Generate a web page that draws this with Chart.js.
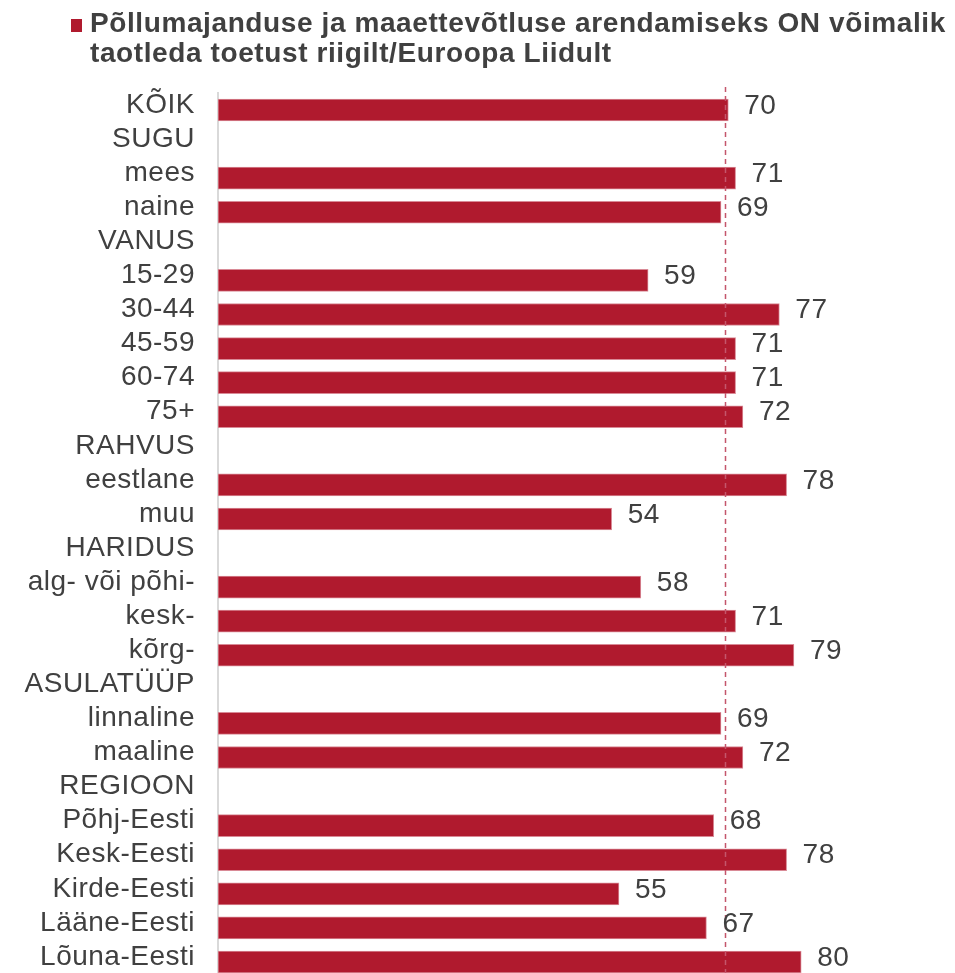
<!DOCTYPE html>
<html>
<head>
<meta charset="utf-8">
<script src="https://cdn.jsdelivr.net/npm/chart.js@4.4.1/dist/chart.umd.min.js"></script>
<style>
  html, body { margin: 0; padding: 0; background: #fff; overflow: hidden; }
  #wrap { position: relative; width: 955px; height: 985px; }
</style>
</head>
<body>
<div id="wrap"><canvas id="myChart"></canvas></div>
<script>
const categories = [
  'KÕIK', 'SUGU', 'mees', 'naine', 'VANUS', '15-29', '30-44', '45-59', '60-74', '75+',
  'RAHVUS', 'eestlane', 'muu', 'HARIDUS', 'alg- või põhi-', 'kesk-', 'kõrg-',
  'ASULATÜÜP', 'linnaline', 'maaline', 'REGIOON', 'Põhj-Eesti', 'Kesk-Eesti',
  'Kirde-Eesti', 'Lääne-Eesti', 'Lõuna-Eesti'
];
const values = [
  70, null, 71, 69, null, 59, 77, 71, 71, 72,
  null, 78, 54, null, 58, 71, 79,
  null, 69, 72, null, 68, 78,
  55, 67, 80
];
const seriesName = ['Põllumajanduse ja maaettevõtluse arendamiseks ON võimalik', 'taotleda toetust riigilt/Euroopa Liidult'];
const refValue = 69.5;
const xMin = 0;
const xMax = 100;

const barColor = '#B01A2E';
const textColor = '#404040';
const fontFamily = '"Liberation Sans", Arial, sans-serif';

// wider letter spacing like the original export
const spacing = {
  id: 'spacing',
  beforeDraw(chart) { chart.ctx.letterSpacing = '0.5px'; }
};

// legend block at the top (square + two lines)
const legendBlock = {
  id: 'legendBlock',
  afterDraw(chart) {
    const { ctx } = chart;
    ctx.save();
    ctx.fillStyle = barColor;
    ctx.fillRect(71, 19, 11, 13);
    ctx.fillStyle = textColor;
    ctx.font = 'bold 28px ' + fontFamily;
    ctx.letterSpacing = '0.6px';
    ctx.textBaseline = 'alphabetic';
    ctx.textAlign = 'left';
    ctx.fillText(seriesName[0], 90, 32);
    ctx.fillText(seriesName[1], 90, 62);
    ctx.restore();
  }
};

// dashed reference line
const refLine = {
  id: 'refLine',
  afterDatasetsDraw(chart) {
    const { ctx, chartArea } = chart;
    const x = Math.round(chart.scales.x.getPixelForValue(refValue)) + 0.5;
    ctx.save();
    ctx.strokeStyle = '#C4566B';
    ctx.lineWidth = 1.5;
    ctx.setLineDash([5, 4]);
    ctx.beginPath();
    ctx.moveTo(x, chartArea.top - 6);
    ctx.lineTo(x, chartArea.bottom);
    ctx.stroke();
    ctx.restore();
  }
};

// value labels at the bar ends
const valueLabels = {
  id: 'valueLabels',
  afterDatasetsDraw(chart) {
    const { ctx } = chart;
    const meta = chart.getDatasetMeta(0);
    ctx.save();
    ctx.fillStyle = textColor;
    ctx.font = '28px ' + fontFamily;
    ctx.textBaseline = 'middle';
    ctx.textAlign = 'left';
    meta.data.forEach((bar, i) => {
      if (values[i] === null) return;
      ctx.fillText(values[i], bar.x + 16, bar.y - 4);
    });
    ctx.restore();
  }
};

const data = {
  labels: categories,
  datasets: [{
    label: seriesName.join(' '),
    data: values,
    backgroundColor: barColor,
    borderColor: '#D98A96',
    borderWidth: 1,
    borderSkipped: false,
    barThickness: 22
  }]
};

const config = {
  type: 'bar',
  data,
  options: {
    indexAxis: 'y',
    responsive: true,
    maintainAspectRatio: false,
    animation: false,
    layout: { padding: { top: 93, right: 8, bottom: 6, left: 0 } },
    plugins: {
      legend: { display: false },
      tooltip: { enabled: false }
    },
    scales: {
      x: {
        display: false,
        min: xMin,
        max: xMax,
        afterFit(scale) { scale.paddingLeft = 0; scale.paddingRight = 0; }
      },
      y: {
        afterFit(scale) {
          scale.width = 218;
          scale.paddingTop = 0;
          scale.paddingBottom = 0;
        },
        grid: { display: false, drawTicks: false },
        border: { display: true, color: '#D9D9D9', width: 2 },
        ticks: {
          padding: 23,
          labelOffset: -5,
          color: textColor,
          font: { family: fontFamily, size: 28 },
          autoSkip: false
        }
      }
    }
  },
  plugins: [spacing, refLine, valueLabels, legendBlock]
};

const myChart = new Chart(document.getElementById('myChart'), config);
</script>
</body>
</html>
